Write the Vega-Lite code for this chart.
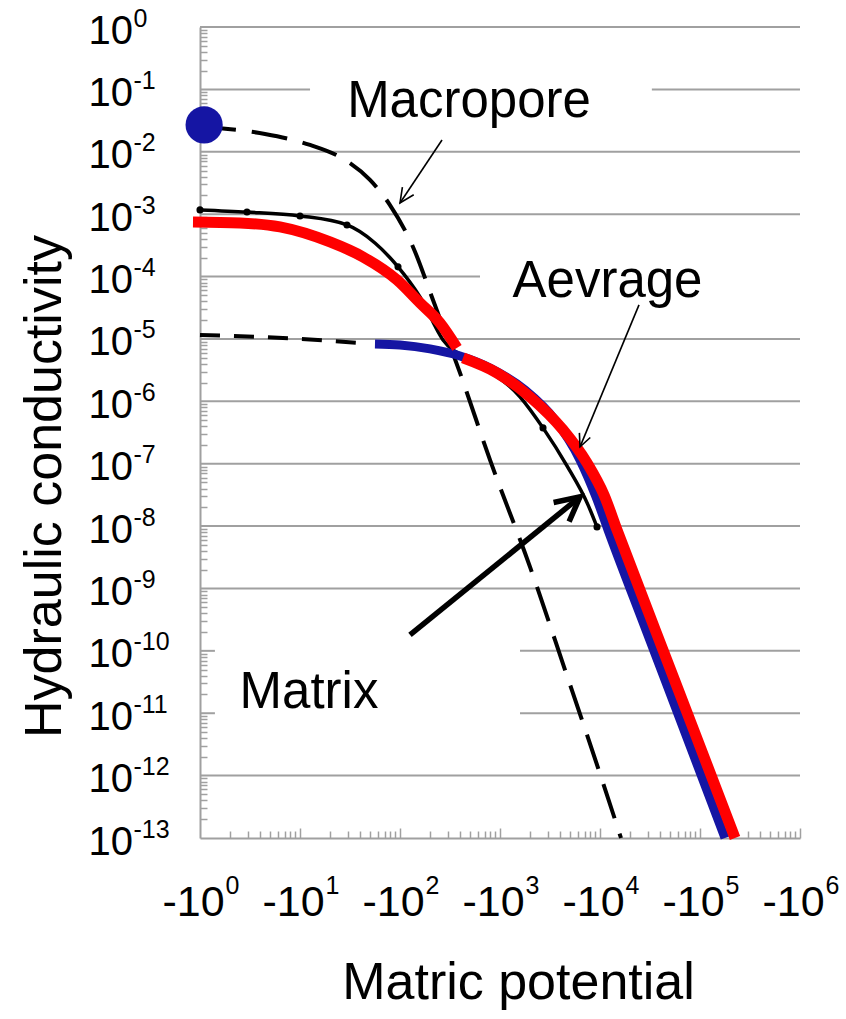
{
  "$schema": "https://vega.github.io/schema/vega-lite/v6.json",
  "width": 600,
  "height": 811,
  "autosize": {"type": "none"},
  "padding": {"left": 200, "top": 27, "right": 46, "bottom": 181},
  "background": "white",
  "config": {"view": {"stroke": null}, "font": "Liberation Sans"},
  "resolve": {"axis": {"x": "independent", "y": "independent"}},
  "datasets": {
    "grid": [
      {"y": 1, "x1": 1, "x2": 1000000},
      {"y": 0.1, "x1": 1, "x2": 12.6},
      {"y": 0.1, "x1": 33000, "x2": 1000000},
      {"y": 0.01, "x1": 1, "x2": 1000000},
      {"y": 0.001, "x1": 1, "x2": 1000000},
      {"y": 0.0001, "x1": 1, "x2": 631},
      {"y": 1e-5, "x1": 1, "x2": 1000000},
      {"y": 1e-6, "x1": 1, "x2": 1000000},
      {"y": 1e-7, "x1": 1, "x2": 1000000},
      {"y": 1e-8, "x1": 1, "x2": 1000000},
      {"y": 1e-9, "x1": 1, "x2": 1000000},
      {"y": 1e-10, "x1": 1, "x2": 1.41},
      {"y": 1e-10, "x1": 1585, "x2": 1000000},
      {"y": 1e-11, "x1": 1, "x2": 1.41},
      {"y": 1e-11, "x1": 1585, "x2": 1000000},
      {"y": 1e-12, "x1": 1, "x2": 1000000}
    ],
    "macro": [
      {"i": 0, "x": 1, "y": 0.0249},
      {"i": 1, "x": 1.905, "y": 0.0232},
      {"i": 2, "x": 4.467, "y": 0.0193},
      {"i": 3, "x": 12.59, "y": 0.01285},
      {"i": 4, "x": 28.18, "y": 0.0074},
      {"i": 5, "x": 50.1, "y": 0.00353},
      {"i": 6, "x": 79.4, "y": 0.0014},
      {"i": 7, "x": 134.9, "y": 0.000298},
      {"i": 8, "x": 213.8, "y": 4.2e-5},
      {"i": 9, "x": 398.1, "y": 2.85e-6},
      {"i": 10, "x": 794.3, "y": 1.15e-7},
      {"i": 11, "x": 1995, "y": 2.22e-9},
      {"i": 12, "x": 4467, "y": 4.97e-11},
      {"i": 13, "x": 10471, "y": 8.57e-13},
      {"i": 14, "x": 16218, "y": 1e-13}
    ],
    "matext": [
      {"i": 0, "x": 1, "y": 1.16e-5},
      {"i": 1, "x": 10, "y": 1.0e-5},
      {"i": 2, "x": 45, "y": 8.5e-6}
    ],
    "measured": [
      {"i": 0, "x": 1, "y": 0.00117},
      {"i": 1, "x": 2.95, "y": 0.00108},
      {"i": 2, "x": 10, "y": 0.000936},
      {"i": 3, "x": 29.5, "y": 0.000671},
      {"i": 4, "x": 56.2, "y": 0.000345},
      {"i": 5, "x": 95.5, "y": 0.000143},
      {"i": 6, "x": 158.5, "y": 4.71e-5},
      {"i": 7, "x": 269.2, "y": 9.64e-6},
      {"i": 8, "x": 562, "y": 4.28e-6},
      {"i": 9, "x": 1585, "y": 1.18e-6},
      {"i": 10, "x": 2692, "y": 3.75e-7},
      {"i": 11, "x": 4677, "y": 9.22e-8},
      {"i": 12, "x": 7586, "y": 2.19e-8},
      {"i": 13, "x": 9333, "y": 9.7e-9}
    ],
    "measuredPts": [
      {"x": 1, "y": 0.00117},
      {"x": 2.95, "y": 0.00108},
      {"x": 10, "y": 0.000936},
      {"x": 29.5, "y": 0.000671},
      {"x": 95.5, "y": 0.000143},
      {"x": 2692, "y": 3.75e-7},
      {"x": 9333, "y": 9.7e-9}
    ],
    "matrix": [
      {"i": 0, "x": 56.2, "y": 8.32e-6},
      {"i": 1, "x": 100, "y": 8.0e-6},
      {"i": 2, "x": 199.5, "y": 6.92e-6},
      {"i": 3, "x": 398, "y": 5.34e-6},
      {"i": 4, "x": 794, "y": 3.43e-6},
      {"i": 5, "x": 1778, "y": 1.52e-6},
      {"i": 6, "x": 3548, "y": 5.04e-7},
      {"i": 7, "x": 6310, "y": 1.15e-7},
      {"i": 8, "x": 9120, "y": 2.94e-8},
      {"i": 9, "x": 12023, "y": 8.69e-9},
      {"i": 10, "x": 29512, "y": 1.96e-10},
      {"i": 11, "x": 72444, "y": 4.46e-12},
      {"i": 12, "x": 177828, "y": 1e-13}
    ],
    "average": [
      {"seg": 1, "i": 0, "x": 0.851, "y": 0.00075},
      {"seg": 1, "i": 1, "x": 2.51, "y": 0.000723},
      {"seg": 1, "i": 2, "x": 6.31, "y": 0.000624},
      {"seg": 1, "i": 3, "x": 19.95, "y": 0.000358},
      {"seg": 1, "i": 4, "x": 42.66, "y": 0.000206},
      {"seg": 1, "i": 5, "x": 93.3, "y": 8.83e-5},
      {"seg": 1, "i": 6, "x": 158.5, "y": 3.78e-5},
      {"seg": 1, "i": 7, "x": 251.2, "y": 1.8e-5},
      {"seg": 1, "i": 8, "x": 371.5, "y": 7.18e-6},
      {"seg": 2, "i": 9, "x": 426.6, "y": 4.96e-6},
      {"seg": 2, "i": 10, "x": 933, "y": 2.85e-6},
      {"seg": 2, "i": 11, "x": 1995, "y": 1.18e-6},
      {"seg": 2, "i": 12, "x": 4266, "y": 3.49e-7},
      {"seg": 2, "i": 13, "x": 7413, "y": 1.03e-7},
      {"seg": 2, "i": 14, "x": 10965, "y": 3.16e-8},
      {"seg": 2, "i": 15, "x": 14791, "y": 8.69e-9},
      {"seg": 2, "i": 16, "x": 36559, "y": 1.96e-10},
      {"seg": 2, "i": 17, "x": 90573, "y": 4.46e-12},
      {"seg": 2, "i": 18, "x": 223872, "y": 1e-13}
    ],
    "dot": [{"x": 1.1, "y": 0.0269}],
    "arrows": [
      {"a": "thin", "part": "macroShaft", "i": 0, "x": 263, "y": 0.01545},
      {"a": "thin", "part": "macroShaft", "i": 1, "x": 100, "y": 0.00151},
      {"a": "thin", "part": "macroHead", "i": 0, "x": 137.1, "y": 0.00205},
      {"a": "thin", "part": "macroHead", "i": 1, "x": 100, "y": 0.00151},
      {"a": "thin", "part": "macroHead", "i": 2, "x": 105.7, "y": 0.00271},
      {"a": "thin", "part": "avgShaft", "i": 0, "x": 24547, "y": 3.51e-5},
      {"a": "thin", "part": "avgShaft", "i": 1, "x": 6310, "y": 1.86e-7},
      {"a": "thin", "part": "avgHead", "i": 0, "x": 7998, "y": 2.63e-7},
      {"a": "thin", "part": "avgHead", "i": 1, "x": 6310, "y": 1.86e-7},
      {"a": "thin", "part": "avgHead", "i": 2, "x": 6223, "y": 3.12e-7},
      {"a": "thick", "part": "matShaft", "i": 0, "x": 125.9, "y": 1.8e-10},
      {"a": "thick", "part": "matShaft", "i": 1, "x": 6310, "y": 2.94e-8},
      {"a": "thick", "part": "matHead", "i": 0, "x": 3436, "y": 2.39e-8},
      {"a": "thick", "part": "matHead", "i": 1, "x": 6310, "y": 2.94e-8},
      {"a": "thick", "part": "matHead", "i": 2, "x": 4909, "y": 1.18e-8}
    ],
    "labels": [
      {"t": "Macropore", "x": 490, "y": 0.0361},
      {"t": "Aevrage", "x": 11885, "y": 4.71e-5},
      {"t": "Matrix", "x": 12.3, "y": 1.22e-11}
    ]
  },
  "layer": [
    {
      "data": {"name": "grid"},
      "mark": {"type": "rule", "color": "#a0a0a0", "strokeWidth": 2},
      "encoding": {
        "x": {
          "field": "x1", "type": "quantitative",
          "scale": {"type": "log", "domain": [1, 1000000], "nice": false},
          "axis": {
            "orient": "bottom",
            "values": [1, 10, 100, 1000, 10000, 100000, 1000000],
            "labelExpr": "'-10'",
            "ticks": false, "grid": false,
            "domainColor": "#a0a0a0", "domainWidth": 2,
            "labelFont": "Liberation Sans", "labelFontSize": 43, "labelColor": "black",
            "labelAlign": "center", "labelBaseline": "alphabetic", "labelOffset": -7,
            "labelPadding": 77, "labelFlush": false, "labelOverlap": false, "labelBound": false,
            "title": "Matric potential", "titleFont": "Liberation Sans", "titleFontSize": 52,
            "titleFontWeight": "normal", "titleColor": "black",
            "titleX": 318, "titleY": 160, "titleBaseline": "alphabetic", "titleAlign": "center"
          }
        },
        "x2": {"field": "x2"},
        "y": {
          "field": "y", "type": "quantitative",
          "scale": {"type": "log", "domain": [1e-13, 1], "nice": false},
          "axis": {
            "orient": "left",
            "values": [1, 0.1, 0.01, 0.001, 0.0001, 1e-5, 1e-6, 1e-7, 1e-8, 1e-9, 1e-10, 1e-11, 1e-12, 1e-13],
            "labelExpr": "'10'",
            "ticks": false, "grid": false,
            "domainColor": "#a0a0a0", "domainWidth": 2,
            "labelFont": "Liberation Sans", "labelFontSize": 40, "labelColor": "black",
            "labelAlign": "left", "labelBaseline": "alphabetic", "labelPadding": 112, "labelOffset": 16,
            "labelFlush": false, "labelOverlap": false, "labelBound": false,
            "title": "Hydraulic conductivity", "titleFont": "Liberation Sans", "titleFontSize": 52,
            "titleFontWeight": "normal", "titleColor": "black",
            "titleX": -140, "titleY": 459, "titleBaseline": "alphabetic", "titleAlign": "center"
          }
        }
      }
    },
    {
      "data": {"name": "macro"},
      "mark": {"type": "line", "color": "black", "strokeWidth": 4, "strokeDash": [36, 16], "interpolate": "monotone"},
      "encoding": {
        "x": {
          "field": "x", "type": "quantitative", "scale": {"type": "log", "domain": [1, 1000000], "nice": false},
          "axis": {
            "orient": "bottom",
            "values": [1, 10, 100, 1000, 10000, 100000, 1000000],
            "labelExpr": "['0','1','2','3','4','5','6'][round(log(datum.value)/LN10)]",
            "ticks": false, "grid": false, "domain": false,
            "labelFont": "Liberation Sans", "labelFontSize": 25, "labelColor": "black",
            "labelAlign": "left", "labelBaseline": "alphabetic", "labelOffset": 25,
            "labelPadding": 55, "labelFlush": false, "labelOverlap": false, "labelBound": false,
            "title": null
          }
        },
        "y": {
          "field": "y", "type": "quantitative", "scale": {"type": "log", "domain": [1e-13, 1], "nice": false},
          "axis": {
            "orient": "left",
            "values": [1, 0.1, 0.01, 0.001, 0.0001, 1e-5, 1e-6, 1e-7, 1e-8, 1e-9, 1e-10, 1e-11, 1e-12, 1e-13],
            "labelExpr": "['0','-1','-2','-3','-4','-5','-6','-7','-8','-9','-10','-11','-12','-13'][round(-log(datum.value)/LN10)]",
            "ticks": false, "grid": false, "domain": false,
            "labelFont": "Liberation Sans", "labelFontSize": 25, "labelColor": "black",
            "labelAlign": "left", "labelBaseline": "alphabetic", "labelPadding": 67, "labelOffset": -1,
            "labelFlush": false, "labelOverlap": false, "labelBound": false,
            "title": null
          }
        },
        "order": {"field": "i"}
      }
    },
    {
      "data": {"name": "matext"},
      "mark": {"type": "line", "color": "black", "strokeWidth": 4, "strokeDash": [20, 14], "interpolate": "monotone"},
      "encoding": {
        "x": {"field": "x", "type": "quantitative", "scale": {"type": "log", "domain": [1, 1000000], "nice": false}, "axis": null},
        "y": {"field": "y", "type": "quantitative", "scale": {"type": "log", "domain": [1e-13, 1], "nice": false}, "axis": null},
        "order": {"field": "i"}
      }
    },
    {
      "data": {"name": "measured"},
      "mark": {"type": "line", "color": "black", "strokeWidth": 3.5, "interpolate": "monotone"},
      "encoding": {
        "x": {"field": "x", "type": "quantitative", "scale": {"type": "log", "domain": [1, 1000000], "nice": false}, "axis": null},
        "y": {"field": "y", "type": "quantitative", "scale": {"type": "log", "domain": [1e-13, 1], "nice": false}, "axis": null},
        "order": {"field": "i"}
      }
    },
    {
      "data": {"name": "measuredPts"},
      "mark": {"type": "point", "filled": true, "color": "black", "size": 50, "opacity": 1},
      "encoding": {
        "x": {"field": "x", "type": "quantitative", "scale": {"type": "log", "domain": [1, 1000000], "nice": false}, "axis": null},
        "y": {"field": "y", "type": "quantitative", "scale": {"type": "log", "domain": [1e-13, 1], "nice": false}, "axis": null}
      }
    },
    {
      "data": {"name": "matrix"},
      "mark": {"type": "line", "color": "#1515A3", "strokeWidth": 9, "interpolate": "monotone", "strokeCap": "butt"},
      "encoding": {
        "x": {
          "field": "x", "type": "quantitative", "scale": {"type": "log", "domain": [1, 1000000], "nice": false},
          "axis": {"orient": "bottom", "values": [10, 100, 1000, 10000, 100000, 1000000], "labels": false, "domain": false, "grid": false, "ticks": true, "tickSize": -10, "tickColor": "#a0a0a0", "tickWidth": 1.5, "title": null}
        },
        "y": {"field": "y", "type": "quantitative", "scale": {"type": "log", "domain": [1e-13, 1], "nice": false}, "axis": null},
        "order": {"field": "i"}
      }
    },
    {
      "data": {"name": "average"},
      "mark": {"type": "line", "color": "#FF0000", "strokeWidth": 11, "interpolate": "monotone", "strokeCap": "butt"},
      "encoding": {
        "x": {
          "field": "x", "type": "quantitative", "scale": {"type": "log", "domain": [1, 1000000], "nice": false},
          "axis": {"orient": "bottom", "values": [2,3,4,5,6,7,8,9,20,30,40,50,60,70,80,90,200,300,400,500,600,700,800,900,2000,3000,4000,5000,6000,7000,8000,9000,20000,30000,40000,50000,60000,70000,80000,90000,200000,300000,400000,500000,600000,700000,800000,900000], "labels": false, "domain": false, "grid": false, "ticks": true, "tickSize": -7, "tickColor": "#a0a0a0", "tickWidth": 1.5, "title": null}
        },
        "y": {
          "field": "y", "type": "quantitative", "scale": {"type": "log", "domain": [1e-13, 1], "nice": false},
          "axis": {"orient": "left", "values": [0.2,0.3,0.4,0.5,0.6,0.7,0.8,0.9,0.02,0.03,0.04,0.05,0.06,0.07,0.08,0.09,0.002,0.003,0.004,0.005,0.006,0.007,0.008,0.009,2e-4,3e-4,4e-4,5e-4,6e-4,7e-4,8e-4,9e-4,2e-5,3e-5,4e-5,5e-5,6e-5,7e-5,8e-5,9e-5,2e-6,3e-6,4e-6,5e-6,6e-6,7e-6,8e-6,9e-6,2e-7,3e-7,4e-7,5e-7,6e-7,7e-7,8e-7,9e-7,2e-8,3e-8,4e-8,5e-8,6e-8,7e-8,8e-8,9e-8,2e-9,3e-9,4e-9,5e-9,6e-9,7e-9,8e-9,9e-9,2e-10,3e-10,4e-10,5e-10,6e-10,7e-10,8e-10,9e-10,2e-11,3e-11,4e-11,5e-11,6e-11,7e-11,8e-11,9e-11,2e-12,3e-12,4e-12,5e-12,6e-12,7e-12,8e-12,9e-12,2e-13,3e-13,4e-13,5e-13,6e-13,7e-13,8e-13,9e-13], "labels": false, "domain": false, "grid": false, "ticks": true, "tickSize": -7, "tickColor": "#a0a0a0", "tickWidth": 1.5, "title": null}
        },
        "detail": {"field": "seg"},
        "order": {"field": "i"}
      }
    },
    {
      "data": {"name": "dot"},
      "mark": {"type": "point", "filled": true, "color": "#1515A3", "size": 1385, "opacity": 1},
      "encoding": {
        "x": {"field": "x", "type": "quantitative", "scale": {"type": "log", "domain": [1, 1000000], "nice": false}, "axis": null},
        "y": {"field": "y", "type": "quantitative", "scale": {"type": "log", "domain": [1e-13, 1], "nice": false}, "axis": null}
      }
    },
    {
      "data": {"name": "arrows"},
      "transform": [{"filter": "datum.a == 'thin'"}],
      "mark": {"type": "line", "color": "black", "strokeWidth": 1.6, "strokeJoin": "miter"},
      "encoding": {
        "x": {"field": "x", "type": "quantitative", "scale": {"type": "log", "domain": [1, 1000000], "nice": false}, "axis": null},
        "y": {"field": "y", "type": "quantitative", "scale": {"type": "log", "domain": [1e-13, 1], "nice": false}, "axis": null},
        "detail": {"field": "part"},
        "order": {"field": "i"}
      }
    },
    {
      "data": {"name": "arrows"},
      "transform": [{"filter": "datum.a == 'thick'"}],
      "mark": {"type": "line", "color": "black", "strokeWidth": 5.5, "strokeJoin": "miter", "strokeCap": "butt"},
      "encoding": {
        "x": {"field": "x", "type": "quantitative", "scale": {"type": "log", "domain": [1, 1000000], "nice": false}, "axis": null},
        "y": {"field": "y", "type": "quantitative", "scale": {"type": "log", "domain": [1e-13, 1], "nice": false}, "axis": null},
        "detail": {"field": "part"},
        "order": {"field": "i"}
      }
    },
    {
      "data": {"name": "labels"},
      "mark": {"type": "text", "font": "Liberation Sans", "fontSize": 51, "color": "black", "align": "center", "baseline": "alphabetic"},
      "encoding": {
        "x": {"field": "x", "type": "quantitative", "scale": {"type": "log", "domain": [1, 1000000], "nice": false}, "axis": null},
        "y": {"field": "y", "type": "quantitative", "scale": {"type": "log", "domain": [1e-13, 1], "nice": false}, "axis": null},
        "text": {"field": "t"}
      }
    }
  ]
}
